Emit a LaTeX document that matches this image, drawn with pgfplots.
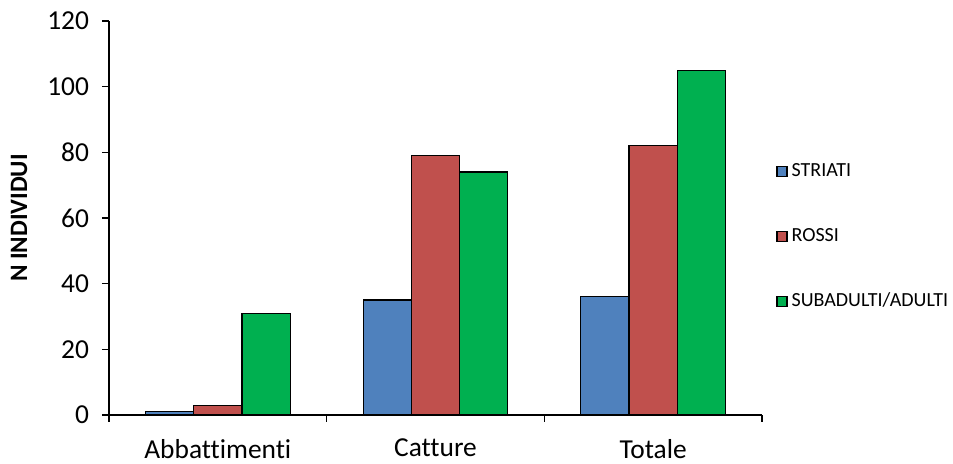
\documentclass[border=0pt]{standalone}
\usepackage{pgfplots}
\pgfplotsset{compat=1.18}
\usepackage{fontspec}
\setmainfont[Ligatures=NoCommon]{Carlito}

\definecolor{cstriati}{HTML}{4F81BD}
\definecolor{crossi}{HTML}{C0504D}
\definecolor{cadulti}{HTML}{00B050}

\begin{document}
\begin{tikzpicture}
% page frame
\path[use as bounding box] (-54.5pt,-24.5pt) rectangle (422pt,207.5pt);
\begin{axis}[
  at={(0pt,0pt)}, anchor=south west,
  scale only axis,
  width=326.5pt, height=197pt,
  xmin=-0.5, xmax=2.5,
  ymin=0, ymax=120,
  ytick={0,20,...,120},
  xtick={0,1,2},
  xticklabels={Abbattimenti,Catture,Totale},
  minor xtick={-0.5,0.5,1.5,2.5},
  major x tick style={draw=none},
  minor x tick style={draw=black, line width=0.6pt},
  minor tick length=3.5pt,
  major tick length=3.5pt,
  tick align=outside,
  axis x line*=bottom,
  axis y line*=left,
  axis line style={line width=0.6pt},
  y tick style={line width=0.6pt, black},
  tick label style={font=\fontsize{13.7}{15}\selectfont},
  yticklabel style={xshift=-3pt},
  xticklabel style={yshift=-5pt},
  /pgf/number format/assume math mode=true,
  ylabel={\textbf{N INDIVIDUI}},
  every axis y label/.style={at={([xshift=-45pt]rel axis cs:0,0.5)}, rotate=90, anchor=center,
    font=\fontsize{12.5}{14}\selectfont},
  legend style={draw=none, fill=none, at={([xshift=7pt]rel axis cs:1,0.452)}, anchor=west,
    font=\fontsize{10}{12}\selectfont, row sep=20.3pt, inner sep=0pt,
    legend cell align=left},
  legend image code/.code={\draw[#1, draw=black, line width=0.6pt] (0pt,-2.5pt) rectangle (5pt,2.5pt);},
  clip=false,
]
\addplot[ybar, bar width=0.2214, bar shift=-0.2214, fill=cstriati, draw=black, line width=0.6pt]
  coordinates {(0,1) (1,35) (2,36)};
\addplot[ybar, bar width=0.2214, bar shift=0, fill=crossi, draw=black, line width=0.6pt]
  coordinates {(0,3) (1,79) (2,82)};
\addplot[ybar, bar width=0.2214, bar shift=0.2214, fill=cadulti, draw=black, line width=0.6pt]
  coordinates {(0,31) (1,74) (2,105)};
\legend{STRIATI,ROSSI,SUBADULTI/ADULTI}
\end{axis}
\end{tikzpicture}
\end{document}
